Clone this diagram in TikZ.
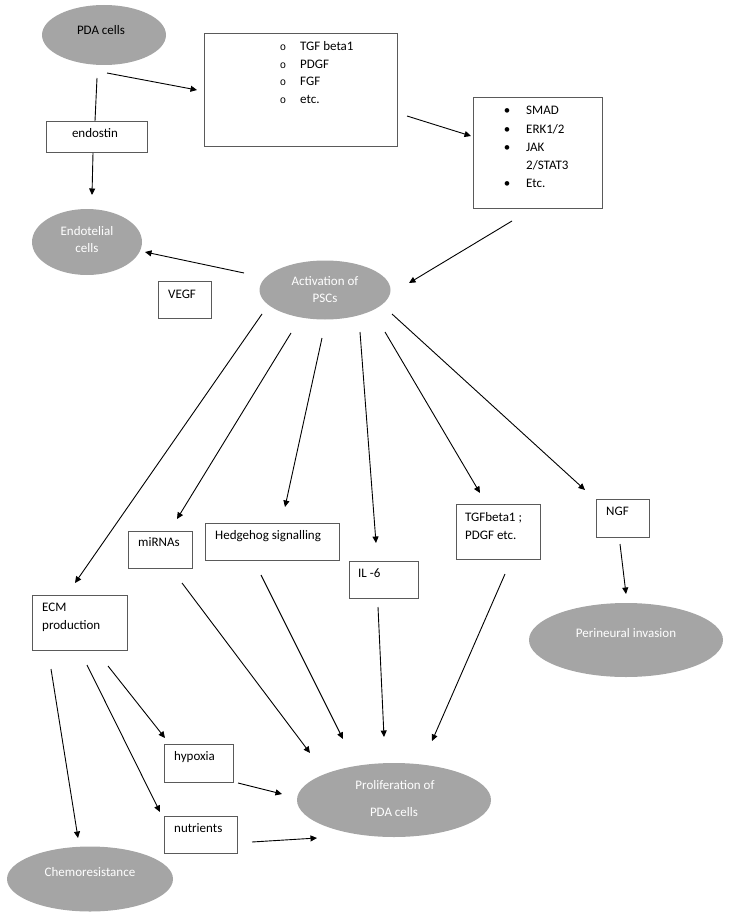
\documentclass[tikz,border=0pt]{standalone}
\usepackage{fontspec}
\setmainfont{Carlito}
\newfontfamily\bulletmono{Liberation Mono}
\usetikzlibrary{arrows.meta,shapes.geometric}
\definecolor{ellgray}{HTML}{A5A5A5}
\definecolor{boxline}{HTML}{5A5A5A}
\begin{document}
\begin{tikzpicture}[x=1pt,y=-1pt,
  ell/.style={ellipse, fill=ellgray, draw=none, inner sep=0pt},
  box/.style={rectangle, draw=boxline, line width=0.8pt, inner sep=0pt, anchor=north west},
  txt/.style={font=\fontsize{13}{16}\selectfont, inner sep=0pt, anchor=mid west},
  ctxt/.style={txt, anchor=mid},
  wtxt/.style={ctxt, text=white},
  obul/.style={font=\bulletmono\fontsize{10.5}{12}\selectfont, inner sep=0pt, anchor=mid},
  fbul/.style={font=\fontsize{13}{16}\selectfont, inner sep=0pt, anchor=mid},
  arr/.style={-{Triangle[length=6.5pt,width=6pt]}, line width=0.9pt},
  ln/.style={line width=0.9pt}]
\useasboundingbox (0,0) rectangle (731,920);

% ---------- ellipses ----------
\node[ell, minimum width=124pt, minimum height=60pt] (pda) at (104,35) {};
\node[ctxt] (pdat) at (101,32) {PDA cells};

\node[ell, minimum width=110pt, minimum height=66pt] (endo) at (87,242) {};
\node[wtxt] (endot1) at (87,233) {Endotelial};
\node[wtxt] (endot2) at (87,250) {cells};

\node[ell, minimum width=131pt, minimum height=59pt] (act) at (325,290) {};
\node[wtxt] (actt1) at (325,283) {Activation of};
\node[wtxt] (actt2) at (325,300) {PSCs};

\node[ell, minimum width=194pt, minimum height=74pt] (peri) at (626,640) {};
\node[wtxt] (perit) at (626,635) {Perineural invasion};

\node[ell, minimum width=194pt, minimum height=74pt] (prol) at (394,800) {};
\node[wtxt] (prolt1) at (395,787) {Proliferation of};
\node[wtxt] (prolt2) at (394,814) {PDA cells};

\node[ell, minimum width=166pt, minimum height=65pt] (chemo) at (90,879) {};
\node[wtxt] (chemot) at (90,874) {Chemoresistance};

% ---------- boxes ----------
\node[box, minimum width=193pt, minimum height=113pt] (gf) at (204,33) {};
\node[obul] (gfb1) at (283,48) {o};
\node[obul] (gfb2) at (283,66) {o};
\node[obul] (gfb3) at (283,83) {o};
\node[obul] (gfb4) at (283,101) {o};
\node[txt] (gft1) at (300,48) {TGF beta1};
\node[txt] (gft2) at (300,66) {PDGF};
\node[txt] (gft3) at (300,83) {FGF};
\node[txt] (gft4) at (300,101) {etc.};

\node[box, minimum width=129pt, minimum height=111pt] (smad) at (473,97) {};
\node[fbul] (smb1) at (507,112) {•};
\node[fbul] (smb2) at (507,131) {•};
\node[fbul] (smb3) at (507,149) {•};
\node[fbul] (smb5) at (507,185) {•};
\node[txt] (smt1) at (526,112) {SMAD};
\node[txt] (smt2) at (526,131) {ERK1/2};
\node[txt] (smt3) at (526,149) {JAK};
\node[txt] (smt4) at (526,167) {2/STAT3};
\node[txt] (smt5) at (526,185) {Etc.};

\node[box, minimum width=101pt, minimum height=31pt] (endost) at (46,121) {};
\node[ctxt] (endostt) at (95,135) {endostin};

\node[box, minimum width=53pt, minimum height=37pt] (vegf) at (158,281) {};
\node[txt] (vegft) at (168,296) {VEGF};

\node[box, minimum width=64pt, minimum height=37pt] (mirna) at (128,531) {};
\node[txt] (mirnat) at (138,544) {miRNAs};

\node[box, minimum width=134pt, minimum height=37pt] (hedge) at (205,523) {};
\node[txt] (hedget) at (215,537) {Hedgehog signalling};

\node[box, minimum width=69pt, minimum height=37pt] (il6) at (349,561) {};
\node[txt] (il6t) at (358,575) {IL -6};

\node[box, minimum width=84pt, minimum height=55pt] (tgf) at (456,504) {};
\node[txt] (tgft1) at (465,519) {TGFbeta1 ;};
\node[txt] (tgft2) at (465,537) {PDGF etc.};

\node[box, minimum width=53pt, minimum height=38pt] (ngf) at (596,499) {};
\node[txt] (ngft) at (606,513) {NGF};

\node[box, minimum width=95pt, minimum height=55pt] (ecm) at (32,595) {};
\node[txt] (ecmt1) at (42,609) {ECM};
\node[txt] (ecmt2) at (42,627) {production};

\node[box, minimum width=69pt, minimum height=38pt] (hyp) at (164,744) {};
\node[txt] (hypt) at (174,758) {hypoxia};

\node[box, minimum width=73pt, minimum height=37pt] (nut) at (164,816) {};
\node[txt] (nutt) at (174,830) {nutrients};

% ---------- connector end points ----------
\coordinate (c1s) at (97,78);   \coordinate (c1e) at (95,121);
\coordinate (c2s) at (93,153);  \coordinate (c2e) at (92,195);
\coordinate (c3s) at (107,73);  \coordinate (c3e) at (197,90);
\coordinate (c4s) at (407,116); \coordinate (c4e) at (471,136);
\coordinate (c5s) at (512,221); \coordinate (c5e) at (409,283);
\coordinate (c6s) at (244,273); \coordinate (c6e) at (145,252);
\coordinate (c7s) at (262,314); \coordinate (c7e) at (75,583);
\coordinate (c8s) at (291,333); \coordinate (c8e) at (177,519);
\coordinate (c9s) at (322,338); \coordinate (c9e) at (285,507);
\coordinate (c10s) at (360,332); \coordinate (c10e) at (376,543);
\coordinate (c11s) at (385,332); \coordinate (c11e) at (480,493);
\coordinate (c12s) at (392,314); \coordinate (c12e) at (585,490);
\coordinate (c13s) at (620,544); \coordinate (c13e) at (626,594);
\coordinate (c14s) at (378,607); \coordinate (c14e) at (384,737);
\coordinate (c15s) at (505,574); \coordinate (c15e) at (432,741);
\coordinate (c16s) at (261,575); \coordinate (c16e) at (343,739);
\coordinate (c17s) at (182,583); \coordinate (c17e) at (310,753);
\coordinate (c18s) at (51,669);  \coordinate (c18e) at (78,838);
\coordinate (c19s) at (87,665);  \coordinate (c19e) at (160,812);
\coordinate (c20s) at (108,666); \coordinate (c20e) at (165,738);
\coordinate (c21s) at (238,783); \coordinate (c21e) at (282,794);
\coordinate (c22s) at (252,842); \coordinate (c22e) at (317,838);

% ---------- connectors ----------
\draw[ln] (c1s) -- (c1e);
\draw[arr] (c2s) -- (c2e);
\draw[arr] (c3s) -- (c3e);
\draw[arr] (c4s) -- (c4e);
\draw[arr] (c5s) -- (c5e);
\draw[arr] (c6s) -- (c6e);
\draw[arr] (c7s) -- (c7e);
\draw[arr] (c8s) -- (c8e);
\draw[arr] (c9s) -- (c9e);
\draw[arr] (c10s) -- (c10e);
\draw[arr] (c11s) -- (c11e);
\draw[arr] (c12s) -- (c12e);
\draw[arr] (c13s) -- (c13e);
\draw[arr] (c14s) -- (c14e);
\draw[arr] (c15s) -- (c15e);
\draw[arr] (c16s) -- (c16e);
\draw[arr] (c17s) -- (c17e);
\draw[arr] (c18s) -- (c18e);
\draw[arr] (c19s) -- (c19e);
\draw[arr] (c20s) -- (c20e);
\draw[arr] (c21s) -- (c21e);
\draw[arr] (c22s) -- (c22e);
\end{tikzpicture}
\end{document}
